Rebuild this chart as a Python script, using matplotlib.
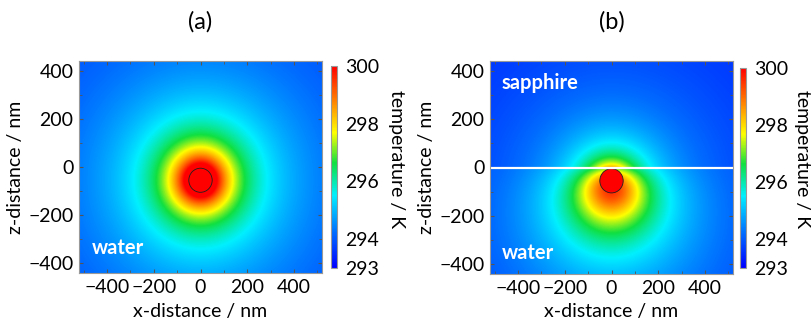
import numpy as np
import matplotlib.pyplot as plt
from matplotlib.patches import Circle
from matplotlib.colors import LinearSegmentedColormap

plt.rcParams['font.family'] = ['Lato', 'DejaVu Sans']

# plot window (nm)
x_lim = [-520, 520]
z_lim = [-440, 440]
ticks_major = [-400, -200, 0, 200, 400]

# colour scale (K)
T_min, T_max = 293, 300
cbar_ticks = [293, 294, 296, 298, 300]

# particle
np_radius = 50        # nm
np_center = (0, -55)  # nm (x, z)

# temperature model parameters, estimated from the isotherm colours
T_amb = 293.0         # K, far field
src_a = 750           # K*nm, source in pure water (a)
soft_a = 80           # nm, smoothing length of the source (a)
src_b = 1850          # K*nm, source in water next to sapphire (b)
soft_b = 140          # nm, smoothing length of the source (b)
g_mirror = 0.68       # weight of the mirror source (sapphire conducts better)
sap_src = 490         # K*nm, source strength seen from the sapphire side
sap_depth = 90        # nm, apparent source depth below the interface

panel_titles = ['(a)', '(b)']

# rainbow map: blue -> cyan -> green -> yellow -> orange -> red
cmap_pos = [0.0, 0.18, 0.36, 0.52, 0.67, 0.83, 1.0]
cmap_col = ['#0000ff', '#0070ff', '#00f0ff', '#10e040', '#ffff00', '#ff8000', '#ff0000']
cmap = LinearSegmentedColormap.from_list('rainbow_cut', list(zip(cmap_pos, cmap_col)))

xx, zz = np.meshgrid(np.linspace(x_lim[0], x_lim[1], 700),
                     np.linspace(z_lim[0], z_lim[1], 600))
x0, z0 = np_center
r2 = (xx - x0)**2 + (zz - z0)**2
r2_img = (xx - x0)**2 + (zz + z0)**2

T_a = T_amb + src_a / np.sqrt(r2 + soft_a**2)

T_b_water = T_amb + src_b * (1 / np.sqrt(r2 + soft_b**2)
                             - g_mirror / np.sqrt(r2_img + soft_b**2))
T_b_sap = T_amb + sap_src / np.sqrt(xx**2 + (zz + sap_depth)**2)
T_b = np.where(zz > 0, T_b_sap, T_b_water)

fig = plt.figure(figsize=(8.11, 3.24), dpi=100)
axA = fig.add_axes([79/811, 51/324, 243/811, 212/324])
caxA = fig.add_axes([331/811, 56/324, 6/811, 202/324])
axB = fig.add_axes([490/811, 50/324, 243/811, 213/324])
caxB = fig.add_axes([740/811, 56/324, 6/811, 200/324])

for ax, cax, T, title, cb_x in [(axA, caxA, T_a, panel_titles[0], 396/811),
                                (axB, caxB, T_b, panel_titles[1], 803/811)]:
    im = ax.imshow(T, extent=[x_lim[0], x_lim[1], z_lim[0], z_lim[1]],
                   origin='lower', cmap=cmap, vmin=T_min, vmax=T_max,
                   aspect='auto', interpolation='bilinear')
    ax.add_patch(Circle(np_center, np_radius, facecolor='#ff0000',
                        edgecolor='#202020', linewidth=0.6))
    ax.set_xlim(x_lim)
    ax.set_ylim(z_lim)
    ax.set_xticks(ticks_major)
    ax.set_yticks(ticks_major)
    ax.set_xticks(np.arange(-500, 501, 100), minor=True)
    ax.set_yticks(np.arange(-400, 401, 100), minor=True)
    ax.tick_params(which='both', direction='in', top=True, right=True,
                   color='#555555', labelsize=14, pad=4)
    ax.tick_params(which='major', length=3)
    ax.tick_params(which='minor', length=2)
    for s in ax.spines.values():
        s.set_color('#999999')
        s.set_linewidth(0.8)
    ax.set_xlabel('x-distance / nm', fontsize=14, labelpad=5)
    ax.set_ylabel('z-distance / nm', fontsize=14, labelpad=3)
    ax.set_title(title, fontsize=17, pad=23)

    cb = fig.colorbar(im, cax=cax, ticks=cbar_ticks)
    cb.outline.set_edgecolor('#999999')
    cb.outline.set_linewidth(0.8)
    cax.tick_params(length=0, labelsize=14, pad=6)
    fig.text(cb_x, 165/324, 'temperature / K', rotation=270, fontsize=14,
             ha='center', va='center')

axA.text(-465, -335, 'water', color='white', fontsize=14.5, fontweight='bold',
         va='center')
axB.text(-470, -352, 'water', color='white', fontsize=14.5, fontweight='bold',
         va='center')
axB.text(-470, 350, 'sapphire', color='white', fontsize=14.5, fontweight='bold',
         va='center')
axB.axhline(0, color='white', linewidth=1.6)

fig.savefig('out.png', dpi=100)
